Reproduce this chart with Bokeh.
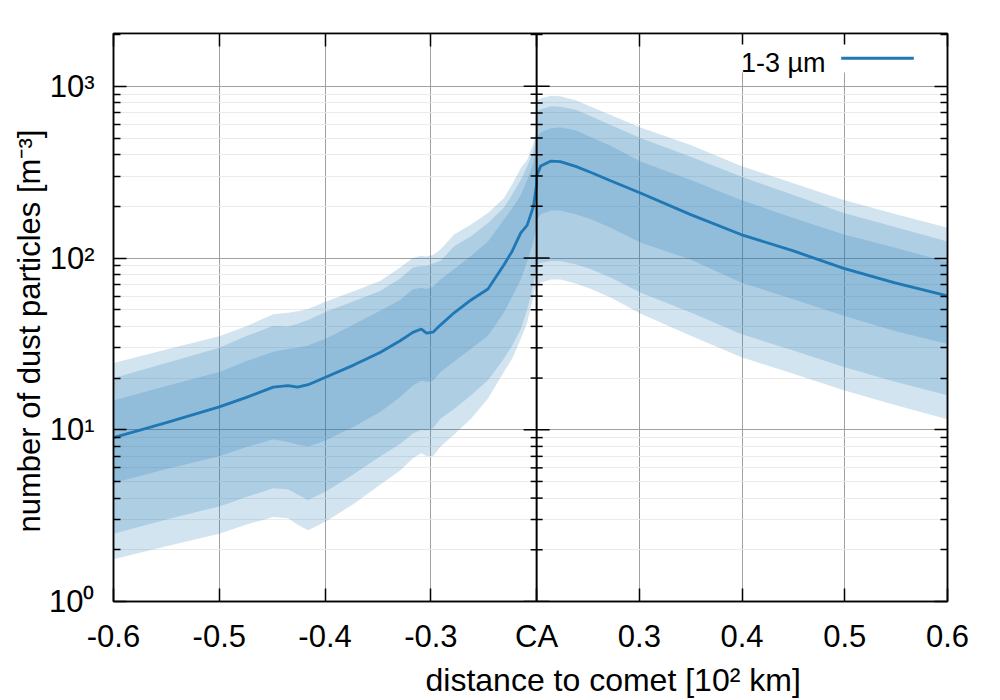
import numpy as np
from bokeh.plotting import figure
from bokeh.models import (Range1d, FixedTicker, LinearAxis, LogAxis, Span, Label,
                          Arrow, BoxAnnotation, Title)
from bokeh.embed import file_html
from bokeh.resources import INLINE

# ---------------- data ----------------
# distance to comet [10^2 km], before closest approach (CA)
left_d = [-0.600, -0.550, -0.500, -0.475, -0.449, -0.435, -0.426, -0.416, -0.399,
          -0.373, -0.348, -0.329, -0.317, -0.309, -0.304, -0.298, -0.291, -0.278,
          -0.262, -0.246, -0.231, -0.223, -0.215, -0.209, -0.203, -0.200]
left_median = [9.0, 11.0, 13.6, 15.4, 17.7, 18.1, 17.7, 18.3, 20.3, 23.8, 28.2, 33.0,
               36.9, 38.6, 36.5, 37.0, 40.7, 48.0, 57.0, 66.0, 91.0, 110.0, 140.0,
               155.0, 200.0, 270.0]
left_outer_hi = [24.5, 29.3, 35, 40, 47, 48, 49, 50.5, 55.8, 64, 73.5, 88, 100, 103,
                 102, 104, 112, 137, 157, 183, 223, 270, 333, 372, 465, 556]
left_mid_hi = [20, 24.5, 30, 35, 40.3, 40, 41.5, 43.5, 48.6, 56, 64.3, 76, 88, 90, 90,
               93, 96, 117, 134, 160, 196, 235, 285, 340, 417, 508]
left_inner_hi = [14.8, 18, 21.7, 25, 28.5, 29.5, 30, 31, 34, 41, 49.3, 57, 65.8, 67, 66,
                 68, 75, 86, 103, 125, 167, 195, 233, 285, 356, 444]
left_inner_lo = [4.9, 5.9, 7.0, 7.9, 8.8, 8.5, 8.2, 8.0, 8.7, 10.4, 12.7, 15.5, 18.1,
                 19.3, 19.0, 19.3, 21.7, 25, 29.6, 35.3, 48.2, 60, 75, 95, 125, 153]
left_mid_lo = [2.48, 3.0, 3.58, 4.05, 4.57, 4.5, 4.2, 3.9, 4.38, 5.5, 6.98, 8.3, 9.5,
               10.0, 9.9, 10.2, 11.6, 13.2, 15.9, 19.4, 25.9, 31, 38.6, 50, 70, 90]
left_outer_lo = [1.76, 2.1, 2.48, 2.8, 3.1, 3.05, 2.8, 2.6, 2.93, 3.7, 4.78, 5.8, 6.82,
                 7.3, 7.0, 7.0, 7.96, 9.4, 11.6, 15.2, 21.7, 26, 33.8, 42, 60, 75]

# after closest approach
right_d = [0.200, 0.204, 0.214, 0.223, 0.238, 0.253, 0.272, 0.301, 0.350, 0.399,
           0.450, 0.499, 0.548, 0.600]
right_median = [300, 344, 367, 364, 342, 315, 282, 239, 179, 137, 110, 87, 72, 60.2]
right_outer_hi = [828, 850, 880, 875, 830, 760, 680, 575, 455, 344, 273, 218, 181, 150]
right_mid_hi = [710, 735, 765, 760, 730, 670, 595, 500, 389, 298, 233, 183, 152, 125]
right_inner_hi = [500, 540, 570, 575, 555, 505, 450, 365, 285, 218, 171, 137, 115, 95]
right_inner_lo = [167, 180, 189, 189, 180, 168, 150, 123, 98, 72, 57.6, 46.1, 37.7, 31.6]
right_mid_lo = [92, 94, 96, 96, 92, 86, 77, 63, 48.2, 36.1, 28.9, 23.2, 19.1, 15.9]
right_outer_lo = [69, 72, 75, 75, 71, 66, 59, 47.5, 35.3, 26.5, 21.2, 17.0, 14.0, 11.5]

tick_d = [-0.6, -0.5, -0.4, -0.3, -0.2, 0.3, 0.4, 0.5, 0.6]
tick_labels = ["-0.6", "-0.5", "-0.4", "-0.3", "CA", "0.3", "0.4", "0.5", "0.6"]
y_major = [1, 10, 100, 1000]
y_major_labels = ["10\u2070", "10\u00b9", "10\u00b2", "10\u00b3"]
series_label = "1-3 \u00b5m"
x_title = "distance to comet [10\u00b2 km]"
y_title = "number of dust particles [m\u207b\u00b3]"

# ---------------- layout helpers ----------------
BLUE = "#1f77b4"
FONT = "Liberation Sans"
RIGHT_SCALE = 0.971   # the post-CA half of the axis is drawn slightly compressed


def xpos(d):
    return (d + 0.2) * 10 if d < 0 else (d - 0.2) * 10 * RIGHT_SCALE


x_all = [xpos(d) for d in left_d] + [xpos(d) for d in right_d]
median = left_median + right_median
bands = [
    (left_outer_lo + right_outer_lo, left_outer_hi + right_outer_hi),
    (left_mid_lo + right_mid_lo, left_mid_hi + right_mid_hi),
    (left_inner_lo + right_inner_lo, left_inner_hi + right_inner_hi),
]

xt = [round(xpos(d), 6) + 0.0 for d in tick_d]
y_minor = [m * 10 ** k for k in range(0, 4) for m in range(2, 10)]
y_top = 2030

p = figure(width=1000, height=700,
           x_range=Range1d(min(xt), max(xt)), y_range=Range1d(1, y_top),
           y_axis_type="log", output_backend="svg", toolbar_location=None,
           min_border_left=113, min_border_right=53, min_border_top=33,
           min_border_bottom=96)
p.background_fill_color = "white"
p.outline_line_color = "black"
p.outline_line_width = 1.5
p.outline_line_alpha = 1.0

xticker = FixedTicker(ticks=xt)
yticker = FixedTicker(ticks=y_major, minor_ticks=y_minor)

# grids
p.xgrid.ticker = xticker
p.ygrid.ticker = yticker
p.xgrid.grid_line_color = "#a0a0a0"
p.ygrid.grid_line_color = "#a0a0a0"
p.ygrid.minor_grid_line_color = "#ebebeb"


def style_axis(ax, labels=True):
    ax.axis_line_color = "black"
    ax.axis_line_width = 1.5
    ax.major_tick_in = 13
    ax.major_tick_out = 0
    ax.minor_tick_in = 7
    ax.minor_tick_out = 0
    ax.major_tick_line_color = "black"
    ax.major_tick_line_width = 1.5
    ax.minor_tick_line_color = "black"
    ax.minor_tick_line_width = 1.5
    ax.major_label_text_font = FONT
    ax.major_label_text_color = "black"
    ax.major_label_text_font_size = "31px" if labels else "0px"


# bottom axis
xa = p.xaxis[0]
xa.ticker = xticker
xa.major_label_overrides = dict(zip(xt, tick_labels))
style_axis(xa)
xa.major_label_standoff = 17

# left axis
ya = p.yaxis[0]
ya.ticker = yticker
ya.major_label_overrides = dict(zip(y_major, y_major_labels))
style_axis(ya)
ya.major_label_standoff = 19

# mirrored top / right axes (ticks only)
top = LinearAxis(ticker=FixedTicker(ticks=xt),
                 major_label_overrides={t: "" for t in xt})
style_axis(top, labels=False)
top.major_label_standoff = 0
p.add_layout(top, "above")

right = LogAxis(ticker=FixedTicker(ticks=y_major, minor_ticks=y_minor),
                major_label_overrides={t: "" for t in y_major})
style_axis(right, labels=False)
right.major_label_standoff = 0
p.add_layout(right, "right")

# axis titles (as titles so they can be shifted like in the reference)
p.add_layout(Title(text=x_title, align="left", offset=312, standoff=6,
                   text_font=FONT, text_font_size="32px", text_font_style="normal",
                   text_color="black"), "below")
p.add_layout(Title(text=y_title, align="left", offset=69, standoff=0,
                   text_font=FONT, text_font_size="31px", text_font_style="normal",
                   text_color="black"), "left")

# bands and median
for lo, hi in bands:
    p.varea(x=x_all, y1=lo, y2=hi, fill_color=BLUE, fill_alpha=0.2)
p.line(x_all, median, line_color=BLUE, line_width=2.8)

# closest-approach line with cross ticks
ca = xpos(-0.2)
p.add_layout(Span(location=ca, dimension="height", line_color="black", line_width=2))
p.scatter(x=[ca] * len(y_major), y=y_major, marker="dash", size=26,
          line_color="black", line_width=1.5)
minor_in = [m for m in y_minor if m < y_top]
p.scatter(x=[ca] * len(minor_in), y=minor_in, marker="dash", size=12,
          line_color="black", line_width=1.5)

# key (text left of the sample line, as in the reference)
p.add_layout(BoxAnnotation(left=622, right=807, top=557, bottom=529,
                           left_units="screen", right_units="screen",
                           top_units="screen", bottom_units="screen",
                           fill_color="white", fill_alpha=1.0, line_color=None))
p.add_layout(Label(x=712, y=539, x_units="screen", y_units="screen",
                   text=series_label, text_align="right", text_baseline="alphabetic",
                   text_font=FONT, text_font_size="27px", text_color="black"))
p.add_layout(Arrow(end=None, x_start=727.7, y_start=543.3, x_end=800.3, y_end=543.3,
                   start_units="screen", end_units="screen",
                   line_color=BLUE, line_width=3))

open("out.html", "w").write(file_html(p, INLINE))
